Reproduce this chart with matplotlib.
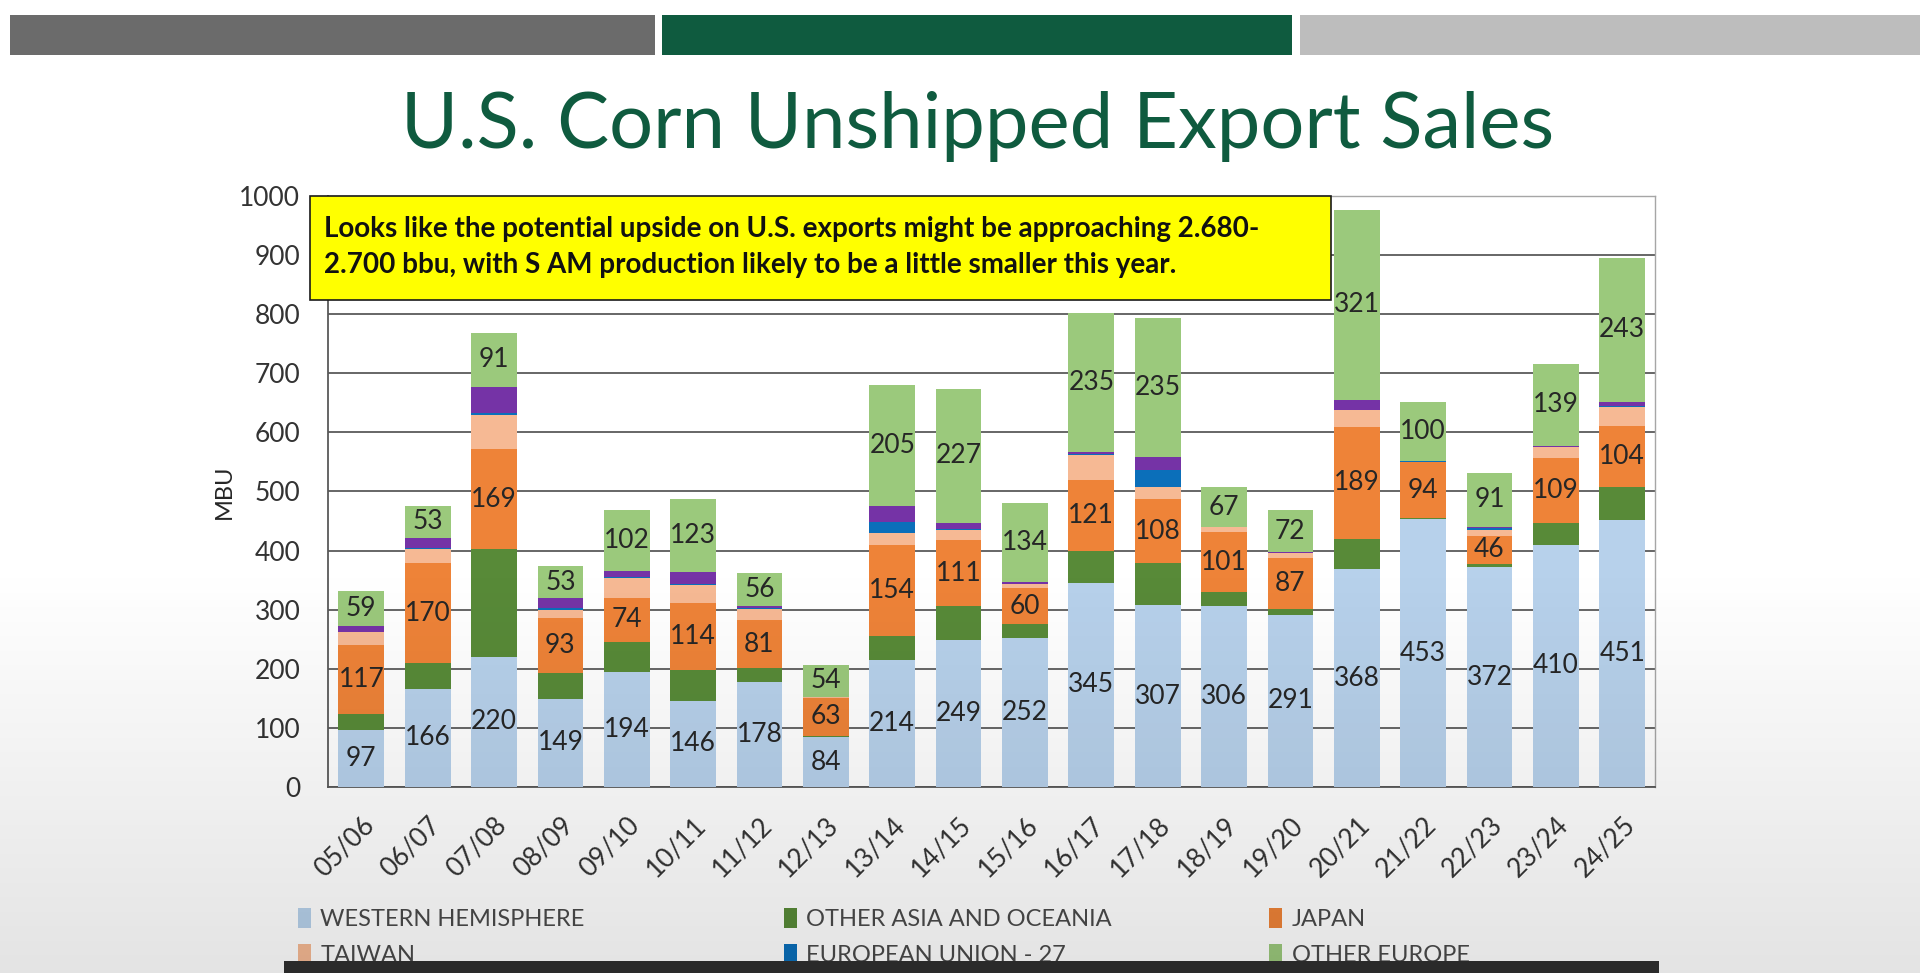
import numpy as np
import matplotlib
matplotlib.use('Agg')
import matplotlib.pyplot as plt
from matplotlib.patches import Rectangle, Patch

# marketing years
seasons = ['05/06', '06/07', '07/08', '08/09', '09/10', '10/11', '11/12', '12/13', '13/14', '14/15',
           '15/16', '16/17', '17/18', '18/19', '19/20', '20/21', '21/22', '22/23', '23/24', '24/25']

# unshipped sales by destination, MBU (bottom to top)
western = [97, 166, 220, 149, 194, 146, 178, 84, 214, 249, 252, 345, 307, 306, 291, 368, 453, 372, 410, 451]
other_asia = [27, 43, 182, 44, 52, 52, 23, 3, 42, 57, 24, 54, 72, 24, 10, 52, 2, 6, 37, 56]
japan = [117, 170, 169, 93, 74, 114, 81, 63, 154, 111, 60, 121, 108, 101, 87, 189, 94, 46, 109, 104]
taiwan = [21, 24, 59, 14, 33, 29, 19, 3, 19, 17, 7, 42, 20, 8, 8, 28, 1, 10, 19, 31]
eu27 = [1, 2, 2, 2, 2, 3, 1, 0, 20, 2, 1, 1, 30, 0, 0, 1, 1, 4, 0, 3]
china = [10, 17, 45, 18, 11, 20, 4, 0, 26, 11, 2, 4, 22, 1, 1, 17, 1, 2, 2, 7]
other_europe = [59, 53, 91, 53, 102, 123, 56, 54, 205, 227, 134, 235, 235, 67, 72, 321, 100, 91, 139, 243]

series = [
    ('WESTERN HEMISPHERE', western, '#b7d1eb', True),
    ('OTHER ASIA AND OCEANIA', other_asia, '#588a38', False),
    ('JAPAN', japan, '#ee8338', True),
    ('TAIWAN', taiwan, '#f6b994', False),
    ('EUROPEAN UNION - 27', eu27, '#0b6fba', False),
    ('CHINA', china, '#7533a6', False),
    ('OTHER EUROPE', other_europe, '#9bc97c', True),
]

TITLE = 'U.S. Corn Unshipped Export Sales'
NOTE = ('Looks like the potential upside on U.S. exports might be approaching 2.680-\n'
        '2.700 bbu, with S AM production likely to be a little smaller this year.')

plt.rcParams['font.family'] = ['Lato', 'DejaVu Sans']

fig = plt.figure(figsize=(19.2, 9.73), dpi=100)
fig.patch.set_facecolor('white')

###########################
# slide decoration
###########################

top_bars = [(0.005, 0.336, '#6b6b6b'), (0.345, 0.328, '#0f5b3f'), (0.677, 0.323, '#bdbdbd')]
for x0, w, c in top_bars:
    fig.patches.append(Rectangle((x0, 0.943), w, 0.042, transform=fig.transFigure,
                                 facecolor=c, edgecolor='none', zorder=1))

fig.text(0.509, 0.870, TITLE, ha='center', va='center', fontsize=56,
         color='#0f5b3f')

###########################
# chart
###########################

ax = fig.add_axes([0.1709, 0.1912, 0.6913, 0.6075])
ax.set_facecolor('white')
x = np.arange(len(seasons))
bottom = np.zeros(len(seasons))
handles = {}
for name, vals, color, labelled in series:
    vals = np.array(vals, dtype=float)
    bars = ax.bar(x, vals, 0.69, bottom=bottom, color=color, edgecolor='none', zorder=3)
    handles[name] = Patch(facecolor=color, edgecolor='none')
    if labelled:
        for xi, b, v in zip(x, bottom, vals):
            ax.text(xi, b + v / 2, '{:d}'.format(int(v)), ha='center', va='center',
                    fontsize=19, color='#262626', zorder=4)
    bottom += vals

ax.set_xlim(-0.5, len(seasons) - 0.5)
ax.set_ylim(0, 1000)
ax.set_yticks(np.arange(0, 1001, 100))
ax.yaxis.grid(True, color='#5a5a5a', linewidth=1.3, zorder=0)
ax.set_axisbelow(True)
ax.tick_params(axis='both', length=0, labelcolor='#333333')
ax.tick_params(axis='y', pad=20, labelsize=19)
ax.set_xticks(x)
ax.set_xticklabels(seasons, rotation=45, ha='right', rotation_mode='anchor')
ax.tick_params(axis='x', pad=18, labelsize=19)
for side in ['top', 'right']:
    ax.spines[side].set_color('#a6a6a6')
    ax.spines[side].set_linewidth(1.0)
for side in ['left', 'bottom']:
    ax.spines[side].set_color('#595959')
    ax.spines[side].set_linewidth(1.3)
ax.set_ylabel('MBU', fontsize=17, color='#262626')
ax.yaxis.set_label_coords(-0.070, 0.5)

# yellow note box
fig.patches.append(Rectangle((0.1614, 0.6918), 0.5318, 0.1069, transform=fig.transFigure,
                             facecolor='#ffff00', edgecolor='#1a1a1a', linewidth=1.2, zorder=5))
fig.text(0.169, 0.746, NOTE, ha='left', va='center', fontsize=20, fontweight='bold',
         color='#111111', linespacing=1.5, zorder=6)

###########################
# legend (three columns of two rows)
###########################

legend_cols = [
    (0.149, ['WESTERN HEMISPHERE', 'TAIWAN']),
    (0.402, ['OTHER ASIA AND OCEANIA', 'EUROPEAN UNION - 27']),
    (0.655, ['JAPAN', 'OTHER EUROPE']),
]
for lx, names in legend_cols:
    fig.legend([handles[n] for n in names], names, loc='center left',
               bbox_to_anchor=(lx, 0.037), frameon=False, fontsize=17,
               labelcolor='#4a4a4a', handlelength=0.55, handleheight=0.9,
               handletextpad=0.4, labelspacing=0.6, borderpad=0)

###########################
# video overlay: bottom shading and caption strip
###########################

ov = fig.add_axes([0, 0, 1, 1], zorder=20)
ov.axis('off')
ramp = np.clip((0.42 - np.linspace(1, 0, 200)) / 0.42, 0, 1) * 0.11
img = np.zeros((200, 2, 4))
img[:, :, 3] = ramp[:, None]
ov.imshow(img, extent=[0, 1, 0, 1], aspect='auto', interpolation='bilinear')
ov.add_patch(Rectangle((0.148, 0.0), 0.716, 0.0126, facecolor='#2a2a2a', edgecolor='none'))
ov.set_xlim(0, 1)
ov.set_ylim(0, 1)

fig.savefig('out.png', dpi=100, facecolor=fig.get_facecolor())
